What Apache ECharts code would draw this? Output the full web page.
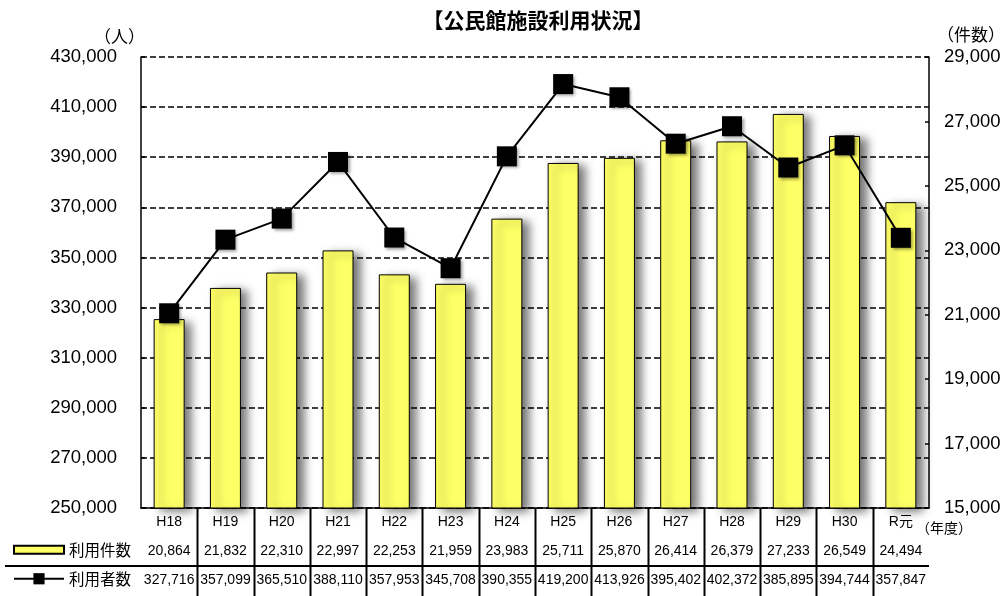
<!DOCTYPE html>
<html lang="ja">
<head>
<meta charset="utf-8">
<title>公民館施設利用状況</title>
<script src="https://cdn.jsdelivr.net/npm/echarts@6/dist/echarts.min.js"></script>
<style>
  html, body { margin: 0; padding: 0; background: #fff; }
  #chart { width: 1008px; height: 596px; }
</style>
</head>
<body>
<div id="chart"></div>
<script>
// 年度
const years = ['H18', 'H19', 'H20', 'H21', 'H22', 'H23', 'H24', 'H25', 'H26', 'H27', 'H28', 'H29', 'H30', 'R元'];
// 利用件数（右軸・件数）
const usageCount = [20864, 21832, 22310, 22997, 22253, 21959, 23983, 25711, 25870, 26414, 26379, 27233, 26549, 24494];
// 利用者数（左軸・人）
const usersCount = [327716, 357099, 365510, 388110, 357953, 345708, 390355, 419200, 413926, 395402, 402372, 385895, 394744, 357847];

const FONT = '"Liberation Sans", Arial, "Noto Sans CJK JP", sans-serif';
const JP = '"Noto Sans CJK JP", "Liberation Sans", sans-serif';
const fmt = v => v.toLocaleString('en-US');

const chart = echarts.init(document.getElementById('chart'), null, { renderer: 'canvas' });

// 表の行（データテーブル）は追加のカテゴリ軸のラベルとして描く
function tableAxis(values, margin) {
  return {
    type: 'category',
    data: values.map(fmt),
    position: 'bottom',
    gridIndex: 0,
    axisLine: { show: false },
    axisTick: { show: false },
    axisLabel: { margin: margin, fontSize: 14, color: '#000', fontFamily: FONT, interval: 0 }
  };
}

const noShadow = { shadowBlur: 0, shadowOffsetX: 0, shadowOffsetY: 0, shadowColor: 'transparent' };

const option = {
  animation: false,
  backgroundColor: '#fff',
  title: {
    text: '【公民館施設利用状況】',
    left: 533, top: 5, textAlign: 'center',
    textStyle: { fontSize: 21, fontWeight: 'bold', color: '#000', fontFamily: JP }
  },
  grid: { left: 141, right: 79, top: 57, bottom: 88 },
  legend: [
    {
      data: [{ name: '利用件数', icon: 'rect' }], left: 13, top: 542, orient: 'vertical',
      padding: 0, itemWidth: 50, itemHeight: 8, itemGap: 0,
      itemStyle: noShadow,
      textStyle: { fontSize: 15.5, color: '#000', fontFamily: JP }
    },
    {
      data: ['利用者数'], left: 13, top: 571, orient: 'vertical',
      padding: 0, itemWidth: 50, itemHeight: 14, itemGap: 0,
      itemStyle: noShadow,
      textStyle: { fontSize: 15.5, color: '#000', fontFamily: JP }
    }
  ],
  xAxis: [
    {
      type: 'category',
      data: years,
      boundaryGap: true,
      axisLine: { show: true, lineStyle: { color: '#000', width: 1.5 } },
      axisTick: { show: false },
      axisLabel: { margin: 7, fontSize: 14, color: '#000', fontFamily: FONT, interval: 0 }
    },
    tableAxis(usageCount, 36),
    tableAxis(usersCount, 65)
  ],
  yAxis: [
    {
      type: 'value', min: 250000, max: 430000, interval: 20000, position: 'left',
      name: '（人）', nameLocation: 'end', nameGap: 12,
      nameTextStyle: { fontSize: 17, color: '#000', fontFamily: JP, align: 'right', padding: [0, -4, 0, 0] },
      axisLine: { show: true, lineStyle: { color: '#000', width: 1.5 } },
      axisTick: { show: true, inside: true, length: 4, lineStyle: { color: '#000', width: 1.5 } },
      axisLabel: { margin: 24, fontSize: 18.5, color: '#000', fontFamily: FONT, formatter: v => fmt(v) },
      splitLine: { show: true, lineStyle: { color: '#000', width: 1.5, type: [6, 3] } }
    },
    {
      type: 'value', min: 15000, max: 29000, interval: 2000, position: 'right',
      name: '（件数）', nameLocation: 'end', nameGap: 14,
      nameTextStyle: { fontSize: 17, color: '#000', fontFamily: JP, align: 'left', padding: [0, 0, 0, 8] },
      axisLine: { show: true, lineStyle: { color: '#000', width: 1.5 } },
      axisTick: { show: true, inside: true, length: 4, lineStyle: { color: '#000', width: 1.5 } },
      axisLabel: { margin: 15, fontSize: 18.5, color: '#000', fontFamily: FONT, formatter: v => fmt(v) },
      splitLine: { show: false }
    }
  ],
  series: [
    {
      name: '利用件数',
      type: 'bar',
      xAxisIndex: 0,
      yAxisIndex: 1,
      data: usageCount,
      barWidth: 31,
      itemStyle: {
        color: '#ffff66',
        borderColor: '#000',
        borderWidth: 1,
        shadowColor: 'rgba(0,0,0,0.55)',
        shadowBlur: 9,
        shadowOffsetX: 7,
        shadowOffsetY: 3
      },
      z: 2
    },
    {
      name: '利用者数',
      type: 'line',
      xAxisIndex: 0,
      yAxisIndex: 0,
      data: usersCount,
      symbol: 'rect',
      symbolSize: 20,
      lineStyle: { color: '#000', width: 2 },
      itemStyle: {
        color: '#000',
        shadowColor: 'rgba(0,0,0,0.4)',
        shadowBlur: 3,
        shadowOffsetX: 2,
        shadowOffsetY: 2
      },
      z: 3
    }
  ]
};

chart.setOption(option);

// 表の罫線：カテゴリ境界に縦線、系列の行の間に横線
function drawTableLines() {
  const centers = years.map((_, i) => chart.convertToPixel({ xAxisIndex: 0 }, i));
  const yTop = chart.convertToPixel({ yAxisIndex: 0 }, 250000);
  const rightEdge = centers[centers.length - 1] + (centers[1] - centers[0]) / 2;
  const elements = [];
  for (let i = 0; i < centers.length - 1; i++) {
    const x = Math.round((centers[i] + centers[i + 1]) / 2) + 0.5;
    elements.push({
      type: 'line', silent: true,
      shape: { x1: x, y1: yTop, x2: x, y2: 596 },
      style: { stroke: '#000', lineWidth: 2 }
    });
  }
  elements.push({
    type: 'line', silent: true,
    shape: { x1: 5, y1: 566, x2: rightEdge, y2: 566 },
    style: { stroke: '#000', lineWidth: 2 }
  });
  elements.push({
    type: 'text', left: 916, top: 521, silent: true,
    style: { text: '（年度）', fontSize: 14, fill: '#000', fontFamily: JP }
  });
  chart.setOption({ graphic: elements });
}
drawTableLines();
</script>
</body>
</html>
